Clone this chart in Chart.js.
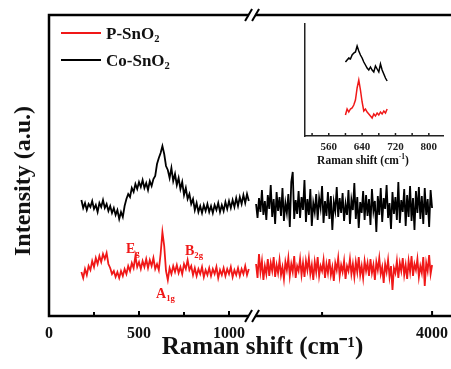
<!DOCTYPE html>
<html>
<head>
<meta charset="utf-8">
<script src="https://cdn.jsdelivr.net/npm/chart.js@4.4.1/dist/chart.umd.min.js"></script>
<style>
  html, body { margin: 0; padding: 0; background: #fff; overflow: hidden; }
  body { width: 451px; height: 369px; position: relative; font-family: "Liberation Serif", "Times New Roman", serif; }
  #main { position: absolute; left: 0; top: 0; }
  #inset { position: absolute; left: 280px; top: 0; }
  .lbl { position: absolute; font-weight: bold; line-height: 1; white-space: nowrap; color: #111; }
  .red { color: #f01818; }
  .lbl sub { font-size: 0.62em; vertical-align: -0.3em; line-height: 0; }
  .key { position: absolute; height: 2px; width: 40px; }
  #ytitle { left: 22px; top: 181px; transform: translate(-50%, -50%) rotate(-90deg); font-size: 24px; }
  #insetTitle { left: 363px; top: 160px; transform: translate(-50%, -50%); font-size: 11.5px; }
</style>
</head>
<body>
<canvas id="main" width="486" height="369"></canvas>
<canvas id="inset" width="171" height="175"></canvas>

<div class="key" style="left:61px;top:32px;background:#f01818"></div>
<div class="lbl" style="left:106px;top:25px;font-size:17px">P-SnO<sub>2</sub></div>
<div class="key" style="left:61px;top:59px;background:#000"></div>
<div class="lbl" style="left:106px;top:52px;font-size:17px">Co-SnO<sub>2</sub></div>

<div class="lbl red" style="left:126px;top:242px;font-size:14px">E<sub>g</sub></div>
<div class="lbl red" style="left:185px;top:244px;font-size:14px">B<sub>2g</sub></div>
<div class="lbl red" style="left:156px;top:287px;font-size:14px">A<sub>1g</sub></div>

<div class="lbl" id="ytitle">Intensity (a.u.)</div>
<div class="lbl" id="insetTitle">Raman shift (cm<sup style="font-size:0.65em">-1</sup>)</div>

<script>
// Raman shift grids (cm-1)
const leftStart = 180, leftStep = 10;      // 180 .. 1110
const rightStart = 1600, rightStep = 20;   // 1600 .. 4000
const insetStart = 600, insetStep = 4;     // 600 .. 700

// Co-SnO2 (black), low-shift segment
const coLeft = [
  116, 108, 113, 106, 112, 109, 115, 107, 111, 104,
  113, 109, 116, 108, 112, 105, 110, 103, 108, 101,
  106, 97, 104, 99, 110, 117, 122, 119, 128, 124,
  132, 127, 134, 129, 136, 128, 133, 126, 135, 130,
  137, 140, 152, 158, 163, 170, 162, 150, 146, 138,
  148, 135, 142, 131, 138, 127, 134, 121, 128, 117,
  122, 112, 117, 106, 113, 104, 110, 103, 111, 105,
  112, 104, 110, 103, 111, 106, 113, 104, 111, 105,
  114, 107, 115, 108, 116, 109, 118, 110, 119, 112,
  121, 113, 122, 115
];

// P-SnO2 (red), low-shift segment
const pLeft = [
  44, 38, 47, 41, 50, 46, 55, 49, 58, 52,
  60, 54, 62, 57, 63, 52, 48, 42, 45, 39,
  44, 38, 45, 40, 47, 42, 50, 45, 53, 48,
  60, 49, 54, 47, 55, 49, 57, 48, 56, 50,
  58, 47, 52, 46, 62, 84, 70, 45, 36, 48,
  42, 50, 44, 51, 43, 49, 42, 52, 47, 56,
  46, 50, 41, 48, 40, 47, 42, 49, 39, 46,
  41, 48, 40, 47, 42, 49, 38, 46, 41, 48,
  40, 47, 42, 49, 39, 46, 41, 48, 40, 47,
  42, 50, 41, 47
];

// Co-SnO2 (black), high-shift segment
const coRight = [
  112, 98, 118, 104, 126, 101, 115, 96, 121, 107,
  131, 99, 117, 92, 124, 105, 119, 100, 128, 95,
  113, 103, 122, 89, 134, 144, 97, 116, 102, 125,
  98, 119, 106, 136, 94, 117, 101, 127, 90, 113,
  104, 122, 96, 118, 108, 130, 93, 115, 100, 124,
  97, 120, 86, 114, 105, 129, 99, 118, 103, 123,
  95, 112, 101, 126, 92, 116, 106, 133, 97, 119,
  88, 114, 103, 125, 96, 121, 100, 117, 91, 127,
  105, 115, 84, 120, 101, 128, 94, 118, 107, 131,
  98, 113, 87, 124, 102, 119, 96, 134, 93, 116,
  104, 127, 90, 121, 99, 130, 95, 118, 86, 125,
  103, 129, 97, 120, 92, 128, 101, 117, 89, 126,
  108
];

// P-SnO2 (red), high-shift segment
const pRight = [
  52, 38, 62, 44, 55, 36, 50, 42, 57, 40,
  53, 45, 59, 39, 51, 43, 56, 41, 49, 37,
  54, 46, 58, 40, 52, 44, 60, 38, 50, 45,
  57, 41, 53, 39, 55, 46, 58, 42, 51, 36,
  54, 44, 59, 40, 50, 45, 56, 38, 52, 43,
  57, 41, 49, 35, 53, 46, 58, 40, 51, 44,
  55, 37, 50, 45, 57, 42, 52, 39, 54, 44,
  59, 41, 50, 38, 55, 45, 53, 40, 57, 43,
  51, 36, 54, 46, 58, 42, 49, 33, 52, 44,
  56, 39, 50, 26, 48, 43, 55, 38, 53, 45,
  58, 41, 51, 37, 55, 44, 60, 40, 52, 46,
  57, 39, 50, 43, 59, 30, 53, 45, 61, 42,
  51
];

// inset, 600 .. 700 cm-1
const insetCo = [74, 76, 78, 77, 81, 83, 84, 90, 85, 81, 78, 74, 71, 68, 66, 69, 66, 64, 70, 67, 64, 72, 66, 62, 58, 55];
const insetP = [21, 27, 24, 27, 28, 31, 36, 48, 56, 46, 34, 25, 27, 24, 22, 20, 18, 22, 20, 23, 21, 24, 22, 25, 23, 27];

// axis ticks
const mainTickRaw = [0, 500, 1000, 4000];
const mainTickLabels = ["0", "500", "1000", "4000"];
const mainMinorRaw = [250, 750, 2500];
const insetTicks = [560, 640, 720, 800];
const insetMinor = [520, 600, 680, 760];

const RED = "#f01818";
const FONT = '"Liberation Serif", "Times New Roman", serif';

// broken axis: right part is compressed and shifted next to the left part
const BREAK_AT = 1128;
const RIGHT_REF = 4000, RIGHT_REF_AXIS = 2128, RIGHT_K = 0.4074;
function toAxis(raw) {
  return raw <= 1200 ? raw : RIGHT_REF_AXIS + (raw - RIGHT_REF) * RIGHT_K;
}

function points(start, step, values) {
  return values.map((v, i) => ({ x: toAxis(start + i * step), y: v }));
}
function plainPoints(start, step, values) {
  return values.map((v, i) => ({ x: start + i * step, y: v }));
}

function line(ctx, x1, y1, x2, y2) {
  ctx.beginPath();
  ctx.moveTo(x1, y1);
  ctx.lineTo(x2, y2);
  ctx.stroke();
}

const framePlugin = {
  id: "frame",
  afterDraw(chart) {
    const { ctx, chartArea: a, scales: { x } } = chart;
    ctx.save();
    ctx.strokeStyle = "#000";
    ctx.lineWidth = 2.5;
    ctx.strokeRect(a.left, a.top, a.right - a.left, a.bottom - a.top);
    ctx.lineWidth = 2;
    mainTickRaw.forEach((r) => {
      const px = x.getPixelForValue(toAxis(r));
      line(ctx, px, a.bottom, px, a.bottom - 5);
    });
    mainMinorRaw.forEach((r) => {
      const px = x.getPixelForValue(toAxis(r));
      line(ctx, px, a.bottom, px, a.bottom - 4);
    });
    const bx = x.getPixelForValue(BREAK_AT);
    [a.top, a.bottom].forEach((y) => {
      ctx.fillStyle = "#fff";
      ctx.fillRect(bx - 3, y - 2.5, 6, 5);
      ctx.lineWidth = 2;
      [-3.5, 3.5].forEach((d) => line(ctx, bx + d - 3.5, y + 6, bx + d + 3.5, y - 6));
    });
    ctx.restore();
  },
};

const insetTickPlugin = {
  id: "insetTicks",
  afterDraw(chart) {
    const { ctx, chartArea: a, scales: { x } } = chart;
    ctx.save();
    ctx.strokeStyle = "#222";
    ctx.lineWidth = 1.5;
    insetTicks.concat(insetMinor).forEach((v) => {
      const px = x.getPixelForValue(v);
      line(ctx, px, a.bottom, px, a.bottom - 3);
    });
    ctx.restore();
  },
};

function lineSet(label, data, color, width) {
  return { label, data, borderColor: color, backgroundColor: color, borderWidth: width, pointRadius: 0, tension: 0 };
}

new Chart(document.getElementById("main"), {
  type: "line",
  data: {
    datasets: [
      lineSet("Co-SnO2", points(leftStart, leftStep, coLeft), "#000", 1.8),
      lineSet("Co-SnO2", points(rightStart, rightStep, coRight), "#000", 1.8),
      lineSet("P-SnO2", points(leftStart, leftStep, pLeft), RED, 1.8),
      lineSet("P-SnO2", points(rightStart, rightStep, pRight), RED, 1.8),
    ],
  },
  options: {
    responsive: false,
    animation: false,
    devicePixelRatio: 1,
    layout: { padding: { left: 49, top: 15, right: 10, bottom: 0 } },
    plugins: { legend: { display: false }, tooltip: { enabled: false } },
    scales: {
      x: {
        type: "linear",
        min: 0,
        max: 2372,
        grid: { display: false, drawTicks: false },
        border: { display: false },
        afterBuildTicks(scale) {
          scale.ticks = mainTickRaw.map((r) => ({ value: toAxis(r) }));
        },
        afterFit(scale) {
          scale.height = 53;
        },
        ticks: {
          autoSkip: false,
          maxRotation: 0,
          padding: 8,
          color: "#111",
          font: { family: FONT, weight: "bold", size: 16 },
          callback: (value, index) => mainTickLabels[index],
        },
        title: {
          display: true,
          text: "Raman shift (cm⁻¹)",
          color: "#111",
          font: { family: FONT, weight: "bold", size: 25 },
          padding: { top: 0, bottom: 6 },
        },
      },
      y: { display: false, min: 0, max: 301 },
    },
  },
  plugins: [framePlugin],
});

new Chart(document.getElementById("inset"), {
  type: "line",
  data: {
    datasets: [
      lineSet("Co-SnO2", plainPoints(insetStart, insetStep, insetCo), "#000", 1.5),
      lineSet("P-SnO2", plainPoints(insetStart, insetStep, insetP), RED, 1.5),
    ],
  },
  options: {
    responsive: false,
    animation: false,
    devicePixelRatio: 1,
    layout: { padding: { left: 25, top: 24, right: 8, bottom: 0 } },
    plugins: { legend: { display: false }, tooltip: { enabled: false } },
    scales: {
      x: {
        type: "linear",
        min: 503,
        max: 834,
        grid: { display: false, drawTicks: false },
        border: { display: true, color: "#222", width: 1.5 },
        afterBuildTicks(scale) {
          scale.ticks = insetTicks.map((v) => ({ value: v }));
        },
        afterFit(scale) {
          scale.height = 39;
        },
        ticks: {
          autoSkip: false,
          maxRotation: 0,
          padding: 5,
          color: "#222",
          font: { family: FONT, weight: "bold", size: 11 },
        },
      },
      y: {
        min: 0,
        max: 112,
        ticks: { display: false },
        grid: { display: false, drawTicks: false },
        border: { display: true, color: "#222", width: 1.5 },
        afterFit(scale) {
          scale.width = 0;
        },
      },
    },
  },
  plugins: [insetTickPlugin],
});
</script>
</body>
</html>
